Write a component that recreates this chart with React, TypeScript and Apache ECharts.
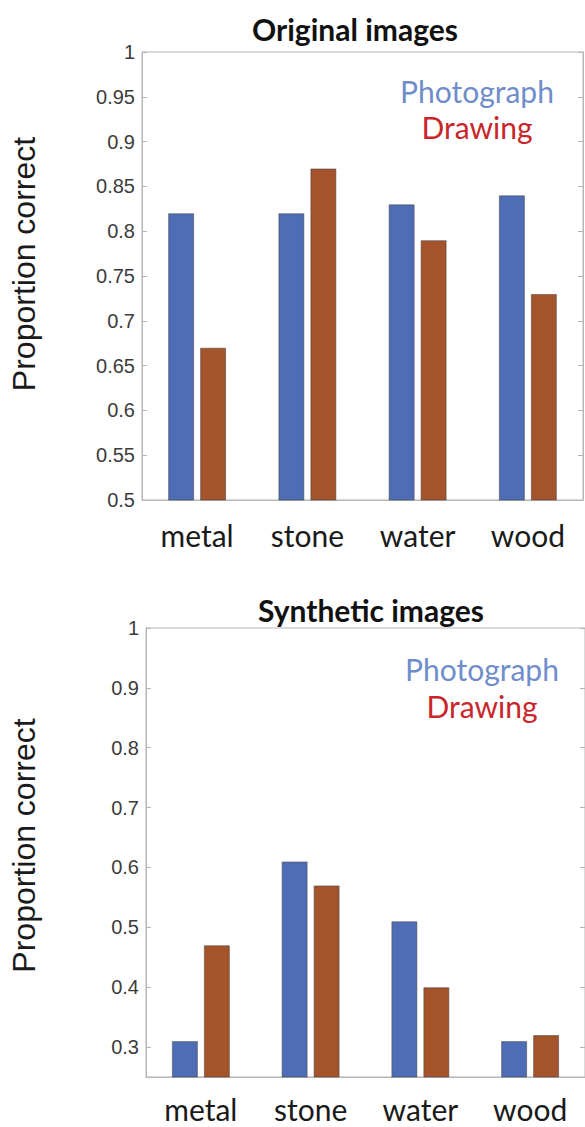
import React, { useEffect, useRef } from "react";
import * as echarts from "echarts";

const categories = ["metal", "stone", "water", "wood"];
const originalPhotograph = [0.82, 0.82, 0.83, 0.84];
const originalDrawing = [0.67, 0.87, 0.79, 0.73];
const syntheticPhotograph = [0.31, 0.61, 0.51, 0.31];
const syntheticDrawing = [0.47, 0.57, 0.4, 0.32];
const syntheticTicks = [0.3, 0.4, 0.5, 0.6, 0.7, 0.8, 0.9, 1];
const titles = ["Original images", "Synthetic images"];
const seriesNames = ["Photograph", "Drawing"];

const BLUE = "#4e6db6";
const BROWN = "#a5532b";
const AXIS = "#b5b5b5";
const LABEL_FONT = "'Liberation Sans', Arial, sans-serif";
const TEXT_FONT = "Lato, 'Open Sans', sans-serif";

const fmt = (v: number) => String(+Number(v).toFixed(2));

export default function App() {
  const ref = useRef<HTMLDivElement>(null);
  useEffect(() => {
    document.body.style.margin = "0";
    const chart = echarts.init(ref.current!, undefined, { renderer: "svg" });
    const grids = [
      { left: 135, top: 52, width: 448, height: 448 },
      { left: 139, top: 628, width: 448, height: 449 },
    ];
    const xAxis = grids.map((_, i) => ({
      type: "category",
      gridIndex: i,
      data: categories,
      axisLine: { lineStyle: { color: AXIS } },
      axisTick: { show: false },
      axisLabel: {
        color: "#1a1a1a",
        fontFamily: TEXT_FONT,
        fontSize: 30,
        margin: i === 0 ? 20 : 17,
        lineHeight: 30,
      },
    }));
    const yCommon = (i: number, pos: string, labels: boolean) => {
      const base: any = {
        type: "value",
        gridIndex: i,
        position: pos,
        max: 1,
        splitLine: { show: false },
        axisLine: { show: true, lineStyle: { color: AXIS } },
        axisTick: { show: true, inside: true, length: 5, lineStyle: { color: AXIS } },
        axisLabel: {
          show: labels,
          color: "#3c3c3c",
          fontFamily: LABEL_FONT,
          fontSize: 20,
          margin: 7,
          formatter: fmt,
        },
      };
      if (i === 0) {
        base.min = 0.5;
        base.interval = 0.05;
      } else {
        base.min = 0.25;
        base.axisTick.customValues = syntheticTicks;
        base.axisLabel.customValues = syntheticTicks;
      }
      if (labels) {
        base.name = "Proportion correct";
        base.nameLocation = "middle";
        base.nameGap = i === 0 ? 102 : 106;
        base.nameTextStyle = {
          color: "#1a1a1a",
          fontFamily: LABEL_FONT,
          fontSize: 32,
          padding: i === 0 ? [0, 0, 0, 24] : [0, 0, 0, 14],
        };
      }
      return base;
    };
    const yAxis = [
      yCommon(0, "left", true),
      yCommon(1, "left", true),
      yCommon(0, "right", false),
      yCommon(1, "right", false),
    ];
    const data = [
      [originalPhotograph, originalDrawing],
      [syntheticPhotograph, syntheticDrawing],
    ];
    const series: any[] = [];
    data.forEach((pair, i) => {
      pair.forEach((vals, j) => {
        series.push({
          type: "bar",
          name: seriesNames[j],
          xAxisIndex: i,
          yAxisIndex: i,
          data: vals,
          barWidth: 26,
          barGap: "23%",
          itemStyle: {
            color: j === 0 ? BLUE : BROWN,
            borderColor: "rgba(70,70,70,0.55)",
            borderWidth: 1,
          },
        });
      });
    });
    const legendPos = [
      { x: 477, y1: 91, y2: 127 },
      { x: 482, y1: 669, y2: 706 },
    ];
    const graphic: any[] = [];
    legendPos.forEach((p) => {
      graphic.push({
        type: "text",
        x: p.x,
        y: p.y1,
        style: {
          text: seriesNames[0],
          fill: "#6f8dca",
          font: `30px ${TEXT_FONT}`,
          textAlign: "center",
          textVerticalAlign: "middle",
        },
      });
      graphic.push({
        type: "text",
        x: p.x,
        y: p.y2,
        style: {
          text: seriesNames[1],
          fill: "#c8262a",
          font: `30px ${TEXT_FONT}`,
          textAlign: "center",
          textVerticalAlign: "middle",
        },
      });
    });
    const titlePos = [
      { x: 350, y: 28 },
      { x: 366, y: 609 },
    ];
    const title = titles.map((t, i) => ({
      text: t,
      left: titlePos[i].x,
      top: titlePos[i].y - 19,
      textAlign: "center",
      textStyle: {
        fontFamily: TEXT_FONT,
        fontWeight: "bold",
        fontSize: 30,
        color: "#111",
      },
    }));
    chart.setOption({
      animation: false,
      backgroundColor: "#fff",
      title,
      grid: grids.map((g) => ({ ...g, show: true, borderColor: AXIS, borderWidth: 1 })),
      xAxis,
      yAxis,
      series,
      graphic,
    });
    return () => chart.dispose();
  }, []);
  return (
    <div
      ref={ref}
      style={{ position: "absolute", left: 0, top: 0, width: 585, height: 1127 }}
    />
  );
}
